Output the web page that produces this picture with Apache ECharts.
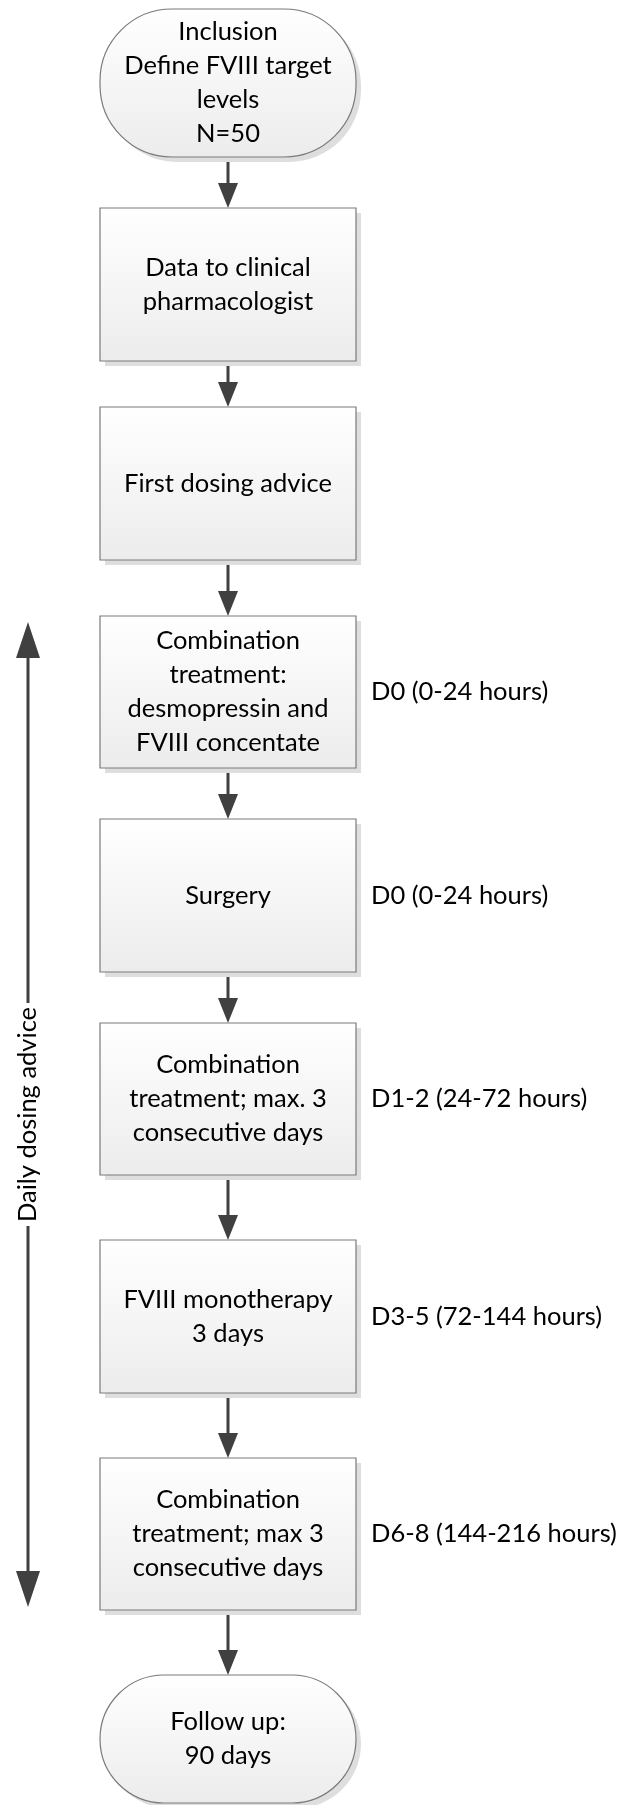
<!DOCTYPE html>
<html>
<head>
<meta charset="utf-8">
<script src="https://cdn.jsdelivr.net/npm/echarts@6/dist/echarts.min.js"></script>
<style>html,body{margin:0;padding:0;background:#fff;}#chart{width:624px;height:1805px;}</style>
</head>
<body>
<div id="chart"></div>
<script>
// ---- content ----
const steps = [
  'Inclusion\nDefine FVIII target\nlevels\nN=50',
  'Data to clinical\npharmacologist',
  'First dosing advice',
  'Combination\ntreatment:\ndesmopressin and\nFVIII concentate',
  'Surgery',
  'Combination\ntreatment; max. 3\nconsecutive days',
  'FVIII monotherapy\n3 days',
  'Combination\ntreatment; max 3\nconsecutive days',
  'Follow up:\n90 days'
];
const shapes = ['terminal','process','process','process','process','process','process','process','terminal'];
const timing = ['', '', '', 'D0 (0-24 hours)', 'D0 (0-24 hours)', 'D1-2 (24-72 hours)', 'D3-5 (72-144 hours)', 'D6-8 (144-216 hours)', ''];
const sideNote = 'Daily dosing advice';
const sideSpan = [3, 7]; // first and last step covered by the daily dosing arrow

// ---- layout (separate from content) ----
const L = {
  left: 100, right: 356, cx: 228,
  tops:    [9, 208, 407, 616, 819, 1023, 1240, 1458, 1675],
  bottoms: [157, 361, 560, 768, 972, 1175, 1393, 1610, 1803],
  terminalRadius: 72,
  labelX: 371,
  sideX: 28, sideTopPad: 6, sideBotPad: 3,
  font: 'Lato', fontSize: 25.5, lineHeight: 34,
  arrowColor: '#404040'
};

const chart = echarts.init(document.getElementById('chart'), null, {renderer: 'canvas'});

function boxFill() {
  return new echarts.graphic.LinearGradient(0, 0, 0, 1, [
    {offset: 0, color: '#ffffff'}, {offset: 1, color: '#ececec'}
  ]);
}

function renderNode(params, api) {
  const i = api.value(0);
  const p0 = api.coord([L.left, L.tops[i]]);
  const p1 = api.coord([L.right, L.bottoms[i]]);
  const x = p0[0], y = p0[1], w = p1[0] - p0[0], h = p1[1] - p0[1];
  const r = shapes[i] === 'terminal' ? Math.min(L.terminalRadius, h / 2) : 0;
  const children = [
    {type: 'rect', shape: {x: x + 5, y: y + 5, width: w, height: h, r: r}, style: {fill: '#dedede'}},
    {type: 'rect', shape: {x: x, y: y, width: w, height: h, r: r}, style: {fill: boxFill(), stroke: '#7a7a7a', lineWidth: 1.2}},
    {type: 'text', x: x + w / 2, y: y + h / 2, style: {text: steps[i], align: 'center', verticalAlign: 'middle',
      font: L.fontSize + 'px ' + L.font, lineHeight: L.lineHeight, fill: '#000'}}
  ];
  if (timing[i]) {
    const lp = api.coord([L.labelX, (L.tops[i] + L.bottoms[i]) / 2]);
    children.push({type: 'text', x: lp[0], y: lp[1], style: {text: timing[i], align: 'left', verticalAlign: 'middle',
      font: L.fontSize + 'px ' + L.font, fill: '#000'}});
  }
  return {type: 'group', children: children};
}

function arrowShape(x, yFrom, yTip, headLen, headW) {
  const dir = yTip > yFrom ? 1 : -1;
  return [
    {type: 'line', shape: {x1: x, y1: yFrom, x2: x, y2: yTip - dir * (headLen - 2)},
      style: {stroke: L.arrowColor, lineWidth: 3}},
    {type: 'polygon', shape: {points: [[x - headW / 2, yTip - dir * headLen], [x + headW / 2, yTip - dir * headLen], [x, yTip]]},
      style: {fill: L.arrowColor}}
  ];
}

function renderEdge(params, api) {
  const i = api.value(0);
  const a = api.coord([L.cx, L.bottoms[i]]);
  const b = api.coord([L.cx, L.tops[i + 1]]);
  return {type: 'group', children: arrowShape(a[0], a[1], b[1], 25, 20)};
}

function renderSide(params, api) {
  const top = api.coord([L.sideX, L.tops[sideSpan[0]] + L.sideTopPad]);
  const bot = api.coord([L.sideX, L.bottoms[sideSpan[1]] - L.sideBotPad]);
  const x = top[0];
  const mid = (top[1] + bot[1]) / 2;
  const hl = 36, hw = 24;
  return {type: 'group', children: [
    {type: 'line', shape: {x1: x, y1: top[1] + hl - 2, x2: x, y2: bot[1] - hl + 2}, style: {stroke: L.arrowColor, lineWidth: 3}},
    {type: 'polygon', shape: {points: [[x - hw / 2, top[1] + hl], [x + hw / 2, top[1] + hl], [x, top[1]]]}, style: {fill: L.arrowColor}},
    {type: 'polygon', shape: {points: [[x - hw / 2, bot[1] - hl], [x + hw / 2, bot[1] - hl], [x, bot[1]]]}, style: {fill: L.arrowColor}},
    {type: 'text', x: x, y: mid, rotation: Math.PI / 2,
      style: {text: sideNote, align: 'center', verticalAlign: 'middle', font: L.fontSize + 'px ' + L.font,
        fill: '#000', backgroundColor: '#fff', padding: [0, 4]}}
  ]};
}

chart.setOption({
  animation: false,
  backgroundColor: '#fff',
  grid: {left: 0, right: 0, top: 0, bottom: 0},
  xAxis: {type: 'value', min: 0, max: 624, show: false},
  yAxis: {type: 'value', min: 0, max: 1805, inverse: true, show: false},
  series: [
    {type: 'custom', renderItem: renderEdge, data: steps.slice(0, -1).map((s, i) => [i]), silent: true, z: 1},
    {type: 'custom', renderItem: renderNode, data: steps.map((s, i) => [i]), silent: true, z: 2},
    {type: 'custom', renderItem: renderSide, data: [[0]], silent: true, z: 3}
  ]
});
</script>
</body>
</html>
